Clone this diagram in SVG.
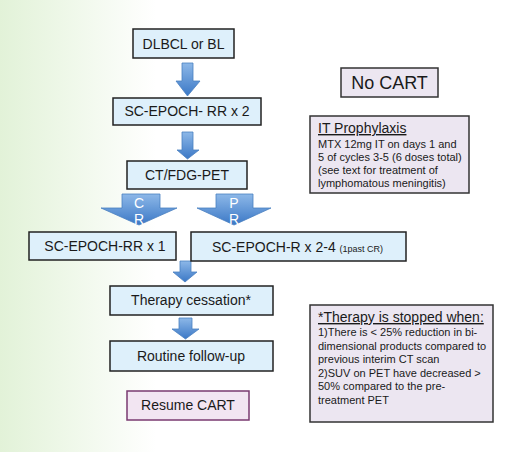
<svg xmlns="http://www.w3.org/2000/svg" width="520" height="452" viewBox="0 0 520 452">
<defs>
<linearGradient id="bg" x1="0" y1="0" x2="1" y2="0">
<stop offset="0" stop-color="#e2f2d8"/>
<stop offset="0.3" stop-color="#ffffff"/>
<stop offset="1" stop-color="#ffffff"/>
</linearGradient>
<linearGradient id="arr" x1="0" y1="0" x2="0" y2="1">
<stop offset="0" stop-color="#8db8e8"/>
<stop offset="1" stop-color="#3b78c6"/>
</linearGradient>
<style>
.box{fill:#def0fb;stroke:#222;stroke-width:1.5}
.lav{fill:#ece6f1;stroke:#333;stroke-width:1.5}
.pink{fill:#f2e5f2;stroke:#7a3a70;stroke-width:1.5}
.arrow{fill:url(#arr);stroke:#4a80c0;stroke-width:0.8}
text{font-family:"Liberation Sans",Arial,sans-serif;fill:#1a1a1a}
.t{font-size:14px;text-anchor:middle}
.s{font-size:11px}
.h{font-size:14px;text-decoration:underline}
.w{font-size:14px;fill:#ffffff;text-anchor:middle}
</style>
</defs>
<rect width="520" height="452" fill="url(#bg)"/>
<g id="connectors">
<path class="arrow" d="M182,63 H193 V81 H200 L187.5,96 L176,81 H182 Z"/>
<path class="arrow" d="M182,132 H193 V150 H199 L187.5,159 L177,150 H182 Z"/>
<path class="arrow" d="M122,194 H160 V208 H177 L139,225 L101,208 H122 Z"/>
<path class="arrow" d="M216,194 H253 V208 H271 L234,225 L197,208 H216 Z"/>
<path class="arrow" d="M180,261 H191 V272 H197 L185,282 L173,272 H180 Z"/>
<path class="arrow" d="M179,318 H192 V329 H199 L185.5,339 L172,329 H179 Z"/>
<text class="w" x="139" y="208">C</text>
<text class="w" x="139" y="224">R</text>
<text class="w" x="234" y="208">P</text>
<text class="w" x="234" y="224">R</text>
</g>
<g id="n-dlbcl"><rect class="box" x="133" y="29" width="101" height="29"/><text class="t" x="183.5" y="49">DLBCL or BL</text></g>
<g id="n-epoch2"><rect class="box" x="113" y="98" width="148" height="27"/><text class="t" x="187" y="116">SC-EPOCH- RR x 2</text></g>
<g id="n-pet"><rect class="box" x="127" y="161" width="120" height="28"/><text class="t" x="187" y="180">CT/FDG-PET</text></g>
<g id="n-epoch1"><rect class="box" x="29" y="232" width="147" height="28"/><text class="t" x="105" y="251">SC-EPOCH-RR x 1</text></g>
<g id="n-epochr"><rect class="box" x="191" y="232" width="215" height="29"/><text x="212" y="252" style="font-size:14px">SC-EPOCH-R x 2-4 <tspan style="font-size:9px">(1past CR)</tspan></text></g>
<g id="n-cessation"><rect class="box" x="110" y="286" width="163" height="29"/><text class="t" x="191" y="305">Therapy  cessation*</text></g>
<g id="n-followup"><rect class="box" x="110" y="341" width="163" height="30"/><text class="t" x="191" y="361">Routine follow-up</text></g>
<g id="n-resume"><rect class="pink" x="127" y="391" width="122" height="29"/><text class="t" x="188" y="410">Resume CART</text></g>
<g id="n-nocart"><rect class="lav" x="341" y="68" width="97" height="29"/><text x="389.5" y="89" style="font-size:18px;text-anchor:middle">No CART</text></g>
<g id="n-it"><rect class="lav" x="310" y="116" width="159" height="77"/>
<text class="h" x="318" y="133">IT Prophylaxis</text>
<text class="s" x="318" y="148">MTX 12mg IT on days 1 and</text>
<text class="s" x="318" y="161">5 of cycles 3-5 (6 doses total)</text>
<text class="s" x="318" y="174">(see text for treatment of</text>
<text class="s" x="318" y="187">lymphomatous meningitis)</text>
</g>
<g id="n-stop"><rect class="lav" x="310" y="305" width="183" height="117"/>
<text class="h" x="318" y="322">*Therapy is stopped when:</text>
<text class="s" x="318" y="336">1)There is &lt; 25% reduction in bi-</text>
<text class="s" x="318" y="349.5">dimensional products compared to</text>
<text class="s" x="318" y="363">previous interim CT scan</text>
<text class="s" x="318" y="376.5">2)SUV on PET have decreased &gt;</text>
<text class="s" x="318" y="390">50% compared to the pre-</text>
<text class="s" x="318" y="403.5">treatment PET</text>
</g>
</svg>
